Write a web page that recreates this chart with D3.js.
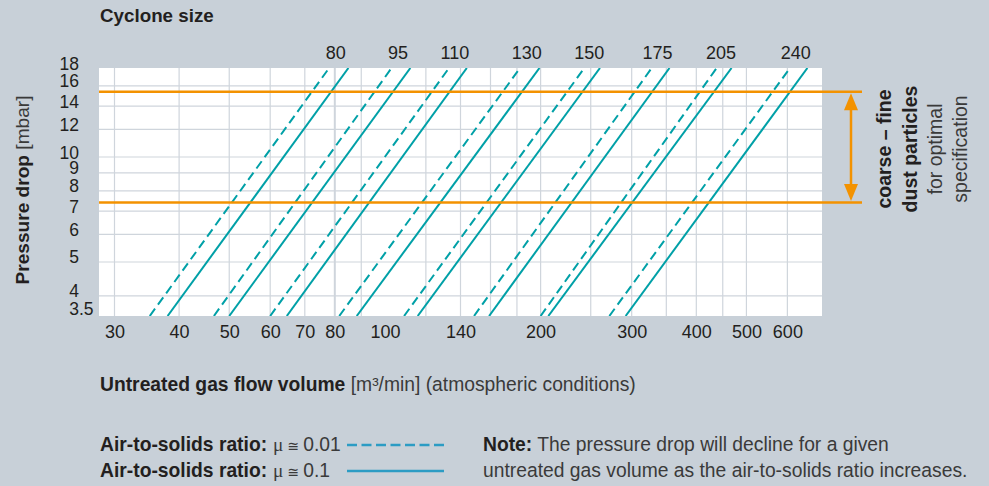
<!DOCTYPE html>
<html>
<head>
<meta charset="utf-8">
<script src="https://cdn.jsdelivr.net/npm/d3@7"></script>
<style>
  html, body { margin: 0; padding: 0; background: #c8d0d8; }
  svg { display: block; font-family: "Liberation Sans", Arial, Helvetica, sans-serif; }
  .tick text { font-size: 18px; fill: #231f20; }
  .bold { font-weight: bold; fill: #231f20; }
  .light { font-weight: normal; fill: #3a3a3a; }
</style>
</head>
<body>
<div id="chart"></div>
<script>
// Cyclone sizes and the flow (m3/min) where each line meets the bottom (3.5 mbar)
// and the top (18 mbar) of the plot.
const sizes = [80, 95, 110, 130, 150, 175, 205, 240];
const solidAtLow = [38, 50, 64.6, 88.2, 115.7, 159, 207, 292];
const solidAtHigh = [85, 112, 144, 199, 260.5, 355, 468, 656];
const dashedAtLow = [35.1, 46.7, 60, 81.6, 108.9, 148.7, 200, 271.6];
const dashedAtHigh = [78, 103, 133, 182.5, 243, 328, 438, 607];

// Axes
const flowTicks = [30, 40, 50, 60, 70, 80, 100, 140, 200, 300, 400, 500, 600];
const flowGrid = [30, 40, 50, 60, 70, 80, 90, 120, 140, 160, 180, 200, 250, 300, 350, 400, 450, 500, 600];
const pressureTicks = [3.5, 4, 5, 6, 7, 8, 9, 10, 12, 14, 16, 18];
const pressureGrid = [4, 5, 6, 7, 8, 9, 10, 12, 14, 16];

// Optimal range for coarse to fine dust (mbar)
const optimalRange = [7.4, 15.4];

const imageWidth = 989;
const imageHeight = 486;
const plot = { left: 99, right: 822, top: 68, bottom: 316 };
const textSize = '19.3px';

const lineColor = '#00a0a7';
const legendColor = '#2c9cc4';
const orange = '#f39200';
const gridColor = '#cfd5dc';

const x = d3.scaleLog()
  .domain([28, 700])
  .range([plot.left, plot.right]);

const y = d3.scaleLog()
  .domain([3.5, 18])
  .range([plot.bottom, plot.top]);

const svg = d3.select('#chart').append('svg')
  .attr('width', imageWidth)
  .attr('height', imageHeight);

svg.append('rect')
  .attr('width', imageWidth)
  .attr('height', imageHeight)
  .attr('fill', '#c8d0d8');

// White plot area
svg.append('rect')
  .attr('x', plot.left)
  .attr('y', plot.top)
  .attr('width', plot.right - plot.left)
  .attr('height', plot.bottom - plot.top)
  .attr('fill', '#fff');

// Grid
svg.append('g').selectAll('line')
  .data(flowGrid)
  .join('line')
  .attr('x1', (d) => x(d))
  .attr('x2', (d) => x(d))
  .attr('y1', plot.top)
  .attr('y2', plot.bottom)
  .attr('stroke', gridColor)
  .attr('stroke-width', (d) => (d === 80 ? 2 : 1.2));

svg.append('g').selectAll('line')
  .data(pressureGrid)
  .join('line')
  .attr('x1', plot.left)
  .attr('x2', plot.right)
  .attr('y1', (d) => y(d))
  .attr('y2', (d) => y(d))
  .attr('stroke', gridColor)
  .attr('stroke-width', 1.2);

// Cyclone lines, dashed first so the solid ones sit on top.
svg.append('clipPath').attr('id', 'plotClip')
  .append('rect')
  .attr('x', plot.left)
  .attr('y', plot.top)
  .attr('width', plot.right - plot.left)
  .attr('height', plot.bottom - plot.top);

const lines = svg.append('g').attr('clip-path', 'url(#plotClip)');

lines.selectAll('.dashed')
  .data(sizes)
  .join('line')
  .attr('class', 'dashed')
  .attr('x1', (d, i) => x(dashedAtLow[i]))
  .attr('y1', y(3.5))
  .attr('x2', (d, i) => x(dashedAtHigh[i]))
  .attr('y2', y(18))
  .attr('stroke', lineColor)
  .attr('stroke-width', 2)
  .attr('stroke-dasharray', '9,5');

lines.selectAll('.solid')
  .data(sizes)
  .join('line')
  .attr('class', 'solid')
  .attr('x1', (d, i) => x(solidAtLow[i]))
  .attr('y1', y(3.5))
  .attr('x2', (d, i) => x(solidAtHigh[i]))
  .attr('y2', y(18))
  .attr('stroke', lineColor)
  .attr('stroke-width', 2);

// Cyclone size labels above the pairs of lines
svg.append('g').selectAll('text')
  .data(sizes)
  .join('text')
  .attr('x', (d, i) => (x(dashedAtHigh[i]) + x(solidAtHigh[i])) / 2 - 3)
  .attr('y', 59)
  .attr('text-anchor', 'middle')
  .style('font-size', '18px')
  .attr('fill', '#231f20')
  .text((d) => d);

svg.append('text')
  .attr('class', 'bold')
  .attr('x', 100)
  .attr('y', 22)
  .style('font-size', '18.8px')
  .text('Cyclone size');

// Orange band limits
svg.append('g').selectAll('line')
  .data(optimalRange)
  .join('line')
  .attr('x1', plot.left)
  .attr('x2', 862)
  .attr('y1', (d) => y(d))
  .attr('y2', (d) => y(d))
  .attr('stroke', orange)
  .attr('stroke-width', 2.5);

// Double arrow between the limits
const arrowX = 851;
const yTop = y(optimalRange[1]) + 1.5;
const yBottom = y(optimalRange[0]) - 1.5;
svg.append('line')
  .attr('x1', arrowX)
  .attr('x2', arrowX)
  .attr('y1', yTop + 10)
  .attr('y2', yBottom - 10)
  .attr('stroke', orange)
  .attr('stroke-width', 2.5);
svg.append('path')
  .attr('d', `M${arrowX},${yTop} L${arrowX + 7},${yTop + 17} L${arrowX - 7},${yTop + 17} Z`)
  .attr('fill', orange);
svg.append('path')
  .attr('d', `M${arrowX},${yBottom} L${arrowX + 7},${yBottom - 17} L${arrowX - 7},${yBottom - 17} Z`)
  .attr('fill', orange);

// Side note, rotated
const sideNote = [
  { text: 'coarse – fine', cls: 'bold', x: 891 },
  { text: 'dust particles', cls: 'bold', x: 917 },
  { text: 'for optimal', cls: 'light', x: 942 },
  { text: 'specification', cls: 'light', x: 967 },
];
svg.append('g').selectAll('text')
  .data(sideNote)
  .join('text')
  .attr('class', (d) => d.cls)
  .attr('transform', (d) => `translate(${d.x},149) rotate(-90)`)
  .attr('text-anchor', 'middle')
  .style('font-size', '19.5px')
  .text((d) => d.text);

// X axis labels
const xAxis = d3.axisBottom(x)
  .tickValues(flowTicks)
  .tickFormat(d3.format('d'))
  .tickSize(0)
  .tickPadding(0);
const xAxisG = svg.append('g')
  .attr('transform', `translate(0,${plot.bottom})`)
  .call(xAxis);
xAxisG.select('.domain').remove();
xAxisG.selectAll('text')
  .attr('dy', null)
  .attr('y', 22)
  .attr('font-family', null)
  .attr('font-size', null);

// Y axis labels, lined up on the decimal point and kept inside the plot height
const yLabels = svg.append('g').attr('class', 'tick');
pressureTicks.forEach((p) => {
  const parts = String(p).split('.');
  const baseline = Math.min(Math.max(y(p) + 1.5, plot.top), plot.bottom - 1);
  yLabels.append('text')
    .attr('x', 79)
    .attr('y', baseline)
    .attr('text-anchor', 'end')
    .style('font-size', '17.5px')
    .text(parts[0]);
  if (parts[1]) {
    yLabels.append('text')
      .attr('x', 79)
      .attr('y', baseline)
      .style('font-size', '17.5px')
      .text(`.${parts[1]}`);
  }
});

// Axis titles
const yTitle = svg.append('text')
  .attr('transform', 'translate(29,190) rotate(-90)')
  .attr('text-anchor', 'middle')
  .style('font-size', '19.1px');
yTitle.append('tspan').attr('class', 'bold').text('Pressure drop');
yTitle.append('tspan').attr('class', 'light').text(' [mbar]');

const xTitle = svg.append('text')
  .attr('x', 100)
  .attr('y', 391)
  .style('font-size', textSize);
xTitle.append('tspan').attr('class', 'bold').text('Untreated gas flow volume');
xTitle.append('tspan').attr('class', 'light').text(' [m³/min] (atmospheric conditions)');

// Legend
const legendRows = [
  { value: '0.01', dash: '10,4.5', y: 451 },
  { value: '0.1', dash: null, y: 477 },
];
const legend = svg.append('g');
legendRows.forEach((row) => {
  const t = legend.append('text')
    .attr('x', 100)
    .attr('y', row.y)
    .style('font-size', textSize);
  t.append('tspan').attr('class', 'bold').text('Air-to-solids ratio:');
  t.append('tspan').attr('class', 'light')
    .attr('dx', 6)
    .style('font-family', '"Liberation Serif", "Times New Roman", serif')
    .text('μ');
  t.append('tspan').attr('class', 'light')
    .attr('dx', 4)
    .style('font-family', '"DejaVu Sans", sans-serif')
    .style('font-size', '14px')
    .text('≅');
  t.append('tspan').attr('class', 'light')
    .attr('dx', 4)
    .text(row.value);
  legend.append('line')
    .attr('x1', 347)
    .attr('x2', 444)
    .attr('y1', row.y - 6)
    .attr('y2', row.y - 6)
    .attr('stroke', legendColor)
    .attr('stroke-width', 2.5)
    .attr('stroke-dasharray', row.dash);
});

// Note
const note1 = svg.append('text')
  .attr('x', 483)
  .attr('y', 451)
  .style('font-size', textSize);
note1.append('tspan').attr('class', 'bold').text('Note:');
note1.append('tspan').attr('class', 'light').text(' The pressure drop will decline for a given');
svg.append('text')
  .attr('class', 'light')
  .attr('x', 483)
  .attr('y', 477)
  .style('font-size', textSize)
  .text('untreated gas volume as the air-to-solids ratio increases.');
</script>
</body>
</html>
